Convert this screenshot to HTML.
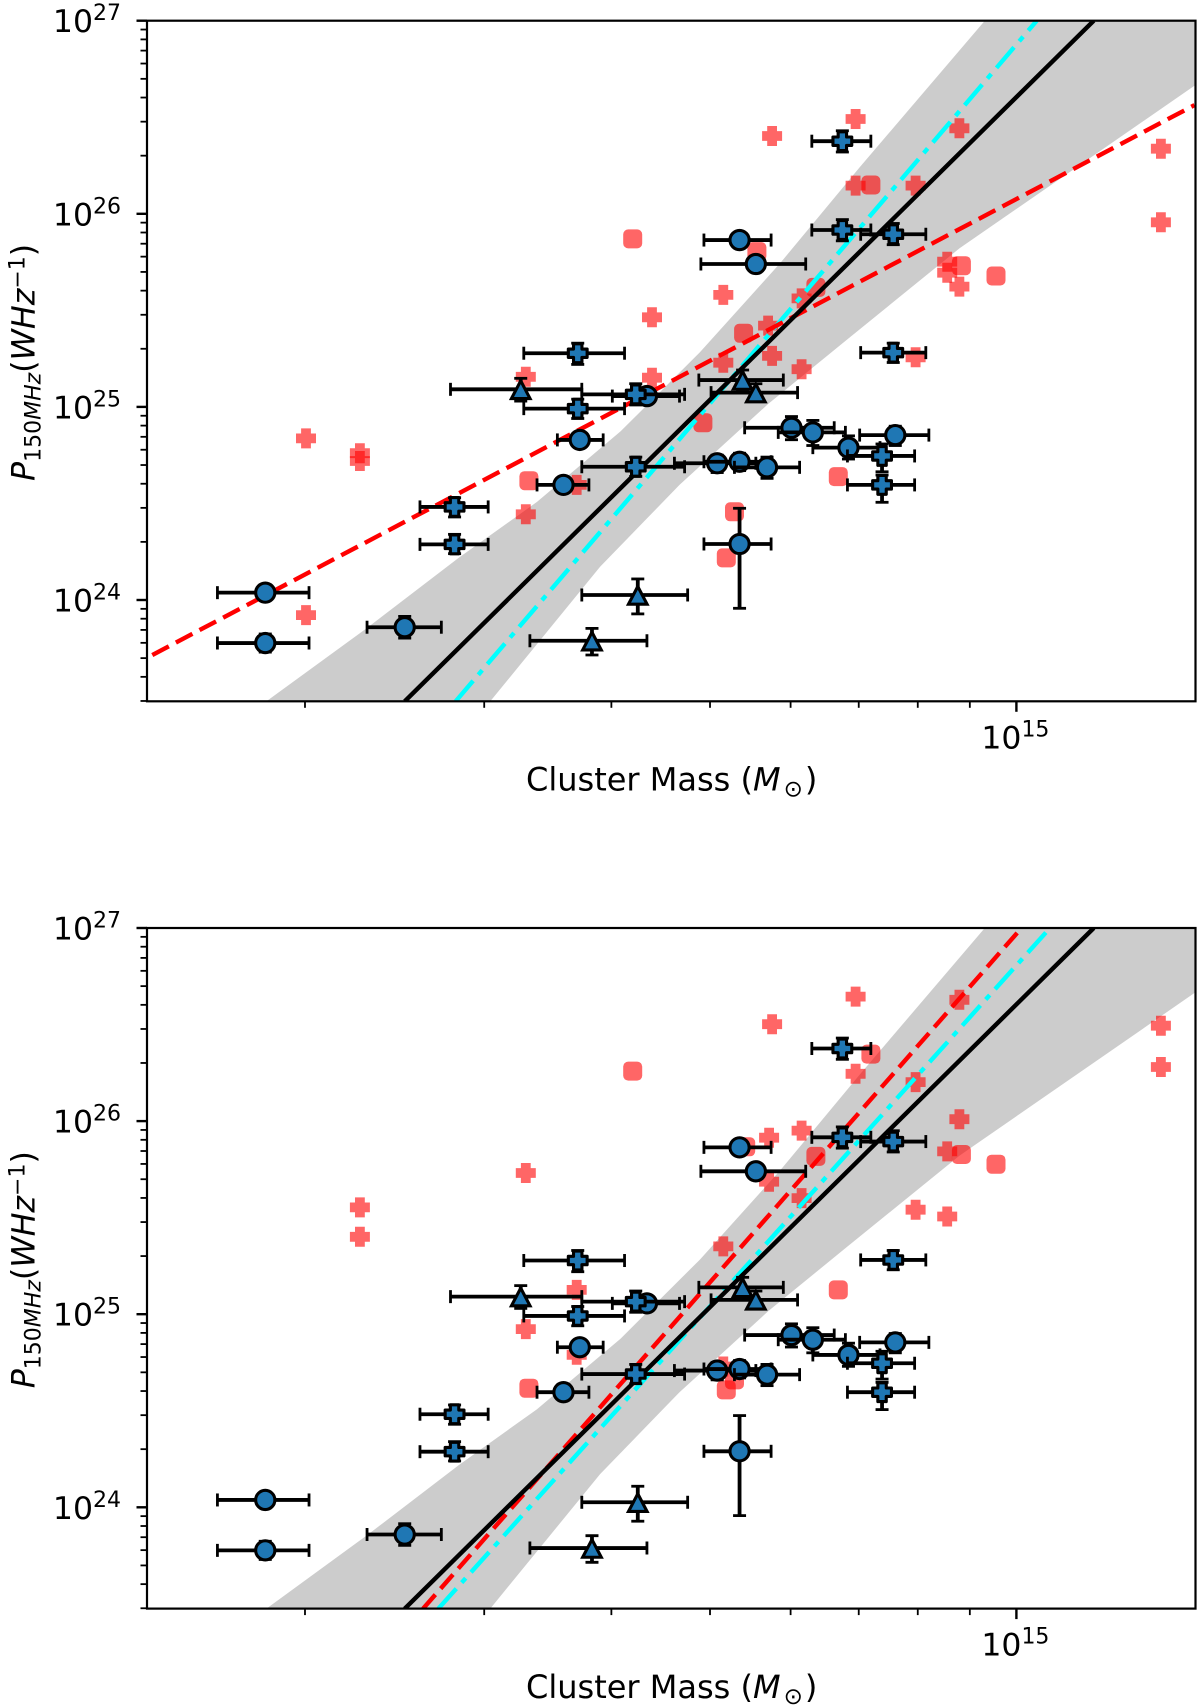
<!DOCTYPE html>
<html lang="en">
<head>
<meta charset="utf-8">
<title>Radio power vs cluster mass</title>
<style>
html,body{margin:0;padding:0;background:#fff;}
#figure{display:block;width:1200px;height:1707px;}
text{font-family:"DejaVu Sans","Liberation Sans",sans-serif;fill:#000;}
</style>
</head>
<body>
<svg id="figure" xmlns="http://www.w3.org/2000/svg" width="1200" height="1707" viewBox="0 0 1200 1707">
  <defs>
    <clipPath id="clip-top"><rect x="147" y="20.7" width="1048.5" height="680.6"/></clipPath>
    <clipPath id="clip-bottom"><rect x="147" y="928" width="1048.5" height="680.6"/></clipPath>
  </defs>
  <g id="panel-top"></g>
  <g id="panel-bottom"></g>
  <text x="526" y="790.7" font-size="32">Cluster Mass (<tspan font-style="italic">M</tspan><tspan font-size="23" dx="3" dy="6">⊙</tspan><tspan dx="2" dy="-6">)</tspan></text>
  <text x="526" y="1698" font-size="32">Cluster Mass (<tspan font-style="italic">M</tspan><tspan font-size="23" dx="3" dy="6">⊙</tspan><tspan dx="2" dy="-6">)</tspan></text>
  <text transform="translate(34.3,481) rotate(-90)" font-size="31.7"><tspan font-style="italic">P</tspan><tspan font-size="22" dy="6">150</tspan><tspan font-size="22" font-style="italic">MHz</tspan><tspan dy="-6">(</tspan><tspan font-style="italic">WHz</tspan><tspan font-size="22" dy="-10">−1</tspan><tspan dy="10">)</tspan></text>
  <text transform="translate(34.3,1388.3) rotate(-90)" font-size="31.7"><tspan font-style="italic">P</tspan><tspan font-size="22" dy="6">150</tspan><tspan font-size="22" font-style="italic">MHz</tspan><tspan dy="-6">(</tspan><tspan font-style="italic">WHz</tspan><tspan font-size="22" dy="-10">−1</tspan><tspan dy="10">)</tspan></text>
</svg>
<script>
// All values are log10: mass in solar masses, power in W/Hz.
// Axis ticks
const xMinorTickMasses = [2e14, 3e14, 4e14, 5e14, 6e14, 7e14, 8e14, 9e14];
const xMajorTickMasses = [1e15];
const xMajorTickExponents = ['15'];
const yDecades = [24, 25, 26, 27];
const yTickExponents = ['24', '25', '26', '27'];
const yMinorMultiples = [2, 3, 4, 5, 6, 7, 8, 9];

// Blue circles
const circleMass = [14.262,14.262,14.399,14.571,14.555,14.637,14.728,14.744,14.706,14.728,14.755,14.779,14.800,14.835,14.881,14.728];
const circlePower = [24.038,23.777,23.859,24.829,24.596,25.056,25.864,25.740,24.708,24.716,24.687,24.892,24.868,24.789,24.854,24.290];
const circleMassLo = [14.215,14.215,14.362,14.549,14.529,14.603,14.693,14.690,14.664,14.693,14.723,14.733,14.766,14.800,14.846,14.693];
const circleMassHi = [14.305,14.305,14.435,14.594,14.580,14.669,14.759,14.793,14.744,14.759,14.787,14.821,14.832,14.866,14.914,14.759];
const circlePowerLo = [24.015,23.730,23.803,24.800,24.570,25.030,25.840,25.720,24.660,24.670,24.630,24.830,24.800,24.730,24.800,23.957];
const circlePowerHi = [24.060,23.824,23.915,24.860,24.620,25.080,25.890,25.760,24.750,24.760,24.740,24.950,24.930,24.850,24.900,24.475];

// Blue triangles
const triangleMass = [14.513,14.731,14.744,14.628,14.583];
const trianglePower = [25.091,25.139,25.074,24.026,23.789];
const triangleMassLo = [14.444,14.688,14.700,14.573,14.522];
const triangleMassHi = [14.573,14.771,14.785,14.677,14.637];
const trianglePowerLo = [25.030,25.090,25.030,23.928,23.715];
const trianglePowerHi = [25.148,25.191,25.120,24.109,23.853];

// Blue crosses
const crossMass = [14.569,14.829,14.829,14.879,14.879,14.569,14.626,14.626,14.448,14.448,14.868,14.868];
const crossPower = [25.278,26.376,25.916,25.894,25.281,24.991,25.065,24.690,24.482,24.288,24.746,24.596];
const crossMassLo = [14.516,14.799,14.799,14.847,14.847,14.516,14.573,14.573,14.414,14.414,14.834,14.834];
const crossMassHi = [14.615,14.857,14.857,14.911,14.911,14.615,14.674,14.674,14.481,14.481,14.900,14.900];
const crossPowerLo = [25.220,26.320,25.860,25.840,25.230,24.940,25.010,24.640,24.430,24.240,24.664,24.506];
const crossPowerHi = [25.330,26.430,25.970,25.950,25.330,25.040,25.120,24.740,24.530,24.340,24.808,24.647];

// Red background samples, top panel
const topRedCrossMass = [14.842,14.760,14.944,15.142,15.142,14.842,14.901,14.712,14.642,14.789,14.932,14.932,14.944,14.756,14.712,14.760,14.789,14.901,14.642,14.518,14.302,14.355,14.355,14.518,14.568,14.302];
const topRedCrossPower = [26.491,26.403,26.443,26.337,25.956,26.146,26.146,25.580,25.464,25.562,25.752,25.695,25.623,25.421,25.229,25.264,25.195,25.257,25.151,25.156,24.837,24.760,24.720,24.444,24.596,23.922];
const topRedSquareMass = [14.857,14.623,14.745,14.803,14.946,14.980,14.732,14.521,14.692,14.825,14.723,14.715];
const topRedSquarePower = [26.149,25.870,25.804,25.619,25.731,25.678,25.381,24.618,24.918,24.639,24.457,24.218];

// Red background samples, bottom panel
const bottomRedCrossMass = [14.355,14.355,14.518,14.568,14.842,14.760,14.944,15.142,15.142,14.842,14.901,14.944,14.789,14.757,14.932,14.757,14.789,14.901,14.932,14.712,14.518,14.568,14.712];
const bottomRedCrossPower = [25.553,25.401,25.731,25.126,26.645,26.502,26.628,26.494,26.280,26.245,26.202,26.010,25.951,25.914,25.843,25.686,25.601,25.541,25.506,25.351,24.923,24.790,24.729];
const bottomRedSquareMass = [14.857,14.623,14.734,14.803,14.946,14.980,14.825,14.521,14.723,14.715];
const bottomRedSquarePower = [26.347,26.259,25.867,25.817,25.827,25.777,25.126,24.617,24.660,24.608];

// Confidence band edges (identical in both panels)
const bandUpperMass = [14.263,14.362,14.452,14.529,14.611,14.689,14.768,14.846,14.969,15.176];
const bandUpperPower = [23.475,23.855,24.218,24.508,24.873,25.283,25.745,26.241,27.000,27.000];
const bandLowerMass = [14.483,14.591,14.669,14.756,14.833,14.944,15.176];
const bandLowerPower = [23.475,24.172,24.596,25.015,25.346,25.821,26.667];

// Fit lines: end points
const blackFitMass = [14.399,15.076];
const blackFitPower = [23.475,27.000];
const topCyanFitMass = [14.449,15.020];
const topCyanFitPower = [23.475,27.000];
const topRedFitMass = [14.151,15.175];
const topRedFitPower = [23.715,26.563];
const bottomCyanFitMass = [14.432,15.033];
const bottomCyanFitPower = [23.475,27.000];
const bottomRedFitMass = [14.417,15.005];
const bottomRedFitPower = [23.475,27.000];

const NS = 'http://www.w3.org/2000/svg';
const axisLeft = 147, axisRight = 1195.5;
const axisHeight = 680.6;
const xOf = function (m) { return 1016.4 + (m - 15) * 1017.8; };

function node(parent, tag, attrs) {
  const el = document.createElementNS(NS, tag);
  for (const k in attrs) el.setAttribute(k, attrs[k]);
  parent.appendChild(el);
  return el;
}

function drawAxes(root, yOf, top, bottom, label) {
  xMinorTickMasses.forEach(function (v) {
    const x = xOf(Math.log10(v));
    const t = node(root, 'line', {x1: x, x2: x, y1: bottom, y2: bottom + 6.5, stroke: '#000', 'stroke-width': 1.8});
    
    
  });
  xMajorTickMasses.forEach(function (v, i) {
    const x = xOf(Math.log10(v));
    const t = node(root, 'line', {x1: x, x2: x, y1: bottom, y2: bottom + 10.5, stroke: '#000', 'stroke-width': 2.4});
    
    
    const tx = node(root, 'text', {x: x - 1, y: bottom + 47, 'text-anchor': 'middle', 'font-size': 31.5});
    
    
    tx.appendChild(document.createTextNode('10'));
    const sup = node(tx, 'tspan', {'font-size': 22, dy: -12});
    sup.textContent = xMajorTickExponents[i];
  });
  yDecades.forEach(function (d, i) {
    const y = yOf(d);
    const t = node(root, 'line', {x1: axisLeft - 10.5, x2: axisLeft, y1: y, y2: y, stroke: '#000', 'stroke-width': 2.4});
    
    
    const tx = node(root, 'text', {x: 121, y: y + 11.5, 'text-anchor': 'end', 'font-size': 31.5});
    
    
    tx.appendChild(document.createTextNode('10'));
    const sup = node(tx, 'tspan', {'font-size': 22, dy: -12});
    sup.textContent = yTickExponents[i];
    yMinorMultiples.forEach(function (mult) {
      const my = yOf(d - 1 + Math.log10(mult));
      if (my > bottom + 0.5) return;
      const mt = node(root, 'line', {x1: axisLeft - 6.5, x2: axisLeft, y1: my, y2: my, stroke: '#000', 'stroke-width': 1.8});
      
      
    });
  });
  const frame = node(root, 'rect', {x: axisLeft, y: top, width: axisRight - axisLeft, height: bottom - top, fill: 'none', stroke: '#000', 'stroke-width': 2.2});
  
  
}

function drawBand(root, yOf, label) {
  let pts = [];
  bandUpperMass.forEach(function (m, i) { pts.push(xOf(m).toFixed(1) + ',' + yOf(bandUpperPower[i]).toFixed(1)); });
  for (let i = bandLowerMass.length - 1; i >= 0; i--) {
    pts.push(xOf(bandLowerMass[i]).toFixed(1) + ',' + yOf(bandLowerPower[i]).toFixed(1));
  }
  const band = node(root, 'polygon', {points: pts.join(' '), fill: '#cccccc'});
  
  
}

function plusPath(a, b) {
  return 'M' + (-b) + ' ' + (-a) + 'H' + b + 'V' + (-b) + 'H' + a + 'V' + b + 'H' + b + 'V' + a + 'H' + (-b) + 'V' + b + 'H' + (-a) + 'V' + (-b) + 'H' + (-b) + 'Z';
}

function drawRed(root, yOf, crossM, crossP, squareM, squareP, label) {
  crossM.forEach(function (m, i) {
    const p = node(root, 'path', {d: plusPath(10, 4.9), transform: 'translate(' + xOf(m).toFixed(1) + ',' + yOf(crossP[i]).toFixed(1) + ')', fill: '#ff0000', 'fill-opacity': 0.6, stroke: 'none'});
    
    
  });
  squareM.forEach(function (m, i) {
    const s = node(root, 'rect', {x: (xOf(m) - 9.5).toFixed(1), y: (yOf(squareP[i]) - 9.5).toFixed(1), width: 19, height: 19, rx: 5, ry: 5, fill: '#ff0000', 'fill-opacity': 0.6});
    
    
  });
}

function drawFit(root, yOf, masses, powers, color, dash, name) {
  const l = node(root, 'line', {x1: xOf(masses[0]), y1: yOf(powers[0]), x2: xOf(masses[1]), y2: yOf(powers[1]), stroke: color, 'stroke-width': 4.4});
  if (dash) l.setAttribute('stroke-dasharray', dash);
  
  
}

function drawErrorbars(root, yOf, kind, M, P, MLo, MHi, PLo, PHi, label) {
  M.forEach(function (m, i) {
    const g = node(root, 'g', {});
    
    
    const x = xOf(m), y = yOf(P[i]);
    const xa = xOf(MLo[i]), xb = xOf(MHi[i]);
    const ya = yOf(PLo[i]), yb = yOf(PHi[i]);
    const hbar = node(g, 'line', {x1: xa, x2: xb, y1: y, y2: y, stroke: '#000', 'stroke-width': 3.8});
    
    
    const vbar = node(g, 'line', {x1: x, x2: x, y1: ya, y2: yb, stroke: '#000', 'stroke-width': 3.8});
    
    
    [xa, xb].forEach(function (cx) {
      const c = node(g, 'line', {x1: cx, x2: cx, y1: y - 6.5, y2: y + 6.5, stroke: '#000', 'stroke-width': 2.8});
      
      
    });
    [ya, yb].forEach(function (cy) {
      const c = node(g, 'line', {x1: x - 6.5, x2: x + 6.5, y1: cy, y2: cy, stroke: '#000', 'stroke-width': 2.8});
      
      
    });
    let mk;
    if (kind === 'circle') {
      mk = node(g, 'circle', {cx: x, cy: y, r: 9.6});
    } else if (kind === 'triangle') {
      mk = node(g, 'path', {d: 'M0 -8.5L9.3 9.2H-9.3Z', transform: 'translate(' + x + ',' + y + ')', 'stroke-linejoin': 'miter'});
    } else {
      mk = node(g, 'path', {d: plusPath(9.4, 4.2), transform: 'translate(' + x + ',' + y + ')', 'stroke-linejoin': 'round'});
    }
    mk.setAttribute('fill', '#1f77b4');
    mk.setAttribute('stroke', '#000');
    mk.setAttribute('stroke-width', '3.1');
    
    
  });
}

function drawPanel(rootId, top, clipId, label, redCM, redCP, redSM, redSP, cyanM, cyanP, redLM, redLP) {
  const root = document.getElementById(rootId);
  const bottom = top + axisHeight;
  const yOf = function (p) { return top + (27 - p) * 193.1; };
  const plot = node(root, 'g', {'clip-path': 'url(#' + clipId + ')'});
  
  
  drawBand(plot, yOf, label);
  drawRed(plot, yOf, redCM, redCP, redSM, redSP, label);
  drawFit(plot, yOf, cyanM, cyanP, '#00ffff', '27 8 6 8', label + '-cyan-fit-line');
  drawFit(plot, yOf, redLM, redLP, '#ff0000', '18.7 8', label + '-red-fit-line');
  drawFit(plot, yOf, blackFitMass, blackFitPower, '#000000', null, label + '-black-fit-line');
  drawErrorbars(plot, yOf, 'circle', circleMass, circlePower, circleMassLo, circleMassHi, circlePowerLo, circlePowerHi, label);
  drawErrorbars(plot, yOf, 'triangle', triangleMass, trianglePower, triangleMassLo, triangleMassHi, trianglePowerLo, trianglePowerHi, label);
  drawErrorbars(plot, yOf, 'cross', crossMass, crossPower, crossMassLo, crossMassHi, crossPowerLo, crossPowerHi, label);
  drawAxes(root, yOf, top, bottom, label);
}

drawPanel('panel-top', 20.7, 'clip-top', 'top', topRedCrossMass, topRedCrossPower, topRedSquareMass, topRedSquarePower, topCyanFitMass, topCyanFitPower, topRedFitMass, topRedFitPower);
drawPanel('panel-bottom', 928, 'clip-bottom', 'bottom', bottomRedCrossMass, bottomRedCrossPower, bottomRedSquareMass, bottomRedSquarePower, bottomCyanFitMass, bottomCyanFitPower, bottomRedFitMass, bottomRedFitPower);
</script>
</body>
</html>
